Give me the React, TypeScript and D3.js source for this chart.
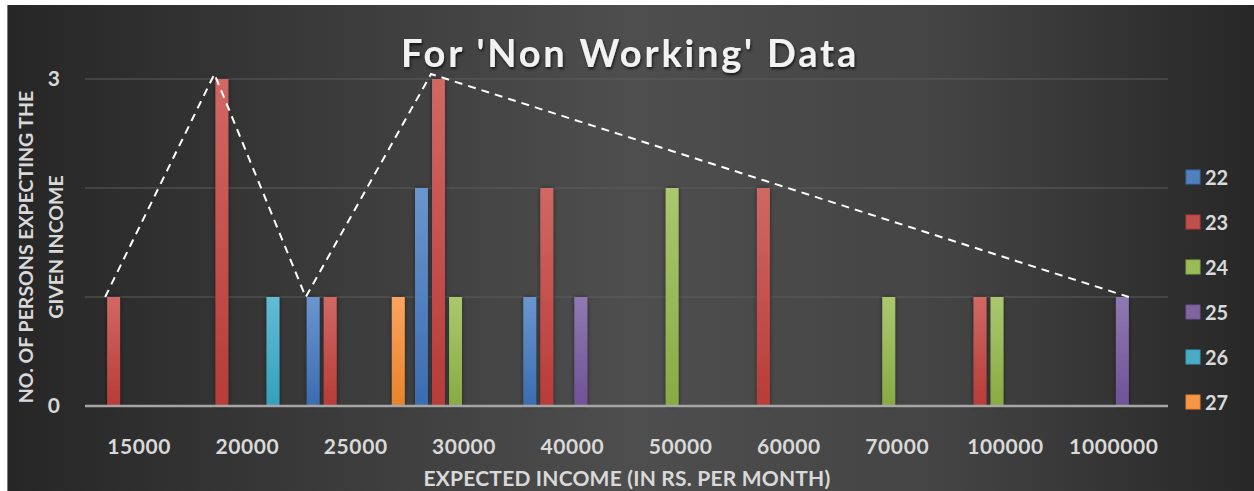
import React from 'react';
import * as d3 from 'd3';

// expected income categories (x axis)
const incomes = ['15000', '20000', '25000', '30000', '40000', '50000', '60000', '70000', '100000', '1000000'];
// age groups (legend)
const ages = ['22', '23', '24', '25', '26', '27'];

// no. of persons per income, one array per age group
const age22 = [0, 0, 1, 2, 1, 0, 0, 0, 0, 0];
const age23 = [1, 3, 1, 3, 2, 0, 2, 0, 1, 0];
const age24 = [0, 0, 0, 1, 0, 2, 0, 1, 1, 0];
const age25 = [0, 0, 0, 0, 1, 0, 0, 0, 0, 1];
const age26 = [0, 1, 0, 0, 0, 0, 0, 0, 0, 0];
const age27 = [0, 0, 1, 0, 0, 0, 0, 0, 0, 0];
const seriesValues = [age22, age23, age24, age25, age26, age27];

const colors = ['#4f81bd', '#c0504d', '#9bbb59', '#8064a2', '#4bacc6', '#f79646'];
const colorsTop = ['#6b96cf', '#d06864', '#aac86f', '#9079b2', '#62bcd4', '#fba45e'];
const colorsBottom = ['#3a6cb0', '#b83b38', '#87ab43', '#6f5296', '#34a0bd', '#e8832c'];

// dashed annotation: which bar tops the line is drawn through
const peakCats = ['15000', '20000', '25000', '30000', '1000000'];
const peakSeries = ['23', '23', '22', '23', '25'];

const yTicks = [0, 3];
const gridValues = [1, 2, 3];

const W = 1254;
const H = 491;
const FONT = 'Lato, "Open Sans", sans-serif';

export default function App() {
  const left = 85;
  const right = 1168;
  const top = 79;
  const bottom = 406;

  const x = d3.scaleBand().domain(incomes).range([left, right]).padding(0);
  const xInner = d3.scaleBand().domain(ages).range([0, x.bandwidth()]).paddingInner(0.24).paddingOuter(0.3);
  const y = d3.scaleLinear().domain([0, 3]).range([bottom, top]);

  const peakPoints = peakCats.map((c, i) => {
    const si = ages.indexOf(peakSeries[i]);
    const v = seriesValues[si][incomes.indexOf(c)];
    const bx = (x(c) ?? 0) + (xInner(peakSeries[i]) ?? 0);
    const last = i === peakCats.length - 1;
    const first = i === 0;
    const px = last ? bx + xInner.bandwidth() : first ? bx - 2 : bx - 1;
    return [px, y(v) - (v === 3 ? 5 : 0)] as [number, number];
  });
  const dashPath = d3.line()(peakPoints) ?? '';

  return (
    <svg width={W} height={H} style={{ position: 'absolute', left: 0, top: 0, display: 'block' }} fontFamily={FONT}>
      <defs>
        <linearGradient id="bg" x1="0" x2="1" y1="0" y2="0">
          <stop offset="0" stopColor="#262626" />
          <stop offset="0.5" stopColor="#4e4e4e" />
          <stop offset="0.75" stopColor="#444444" />
          <stop offset="1" stopColor="#272727" />
        </linearGradient>
        {ages.map((a, i) => (
          <linearGradient key={a} id={`g${a}`} x1="0" x2="0" y1="0" y2="1">
            <stop offset="0" stopColor={colorsTop[i]} />
            <stop offset="1" stopColor={colorsBottom[i]} />
          </linearGradient>
        ))}
        <filter id="shadow" x="-50%" y="-10%" width="200%" height="120%">
          <feDropShadow dx="0" dy="0" stdDeviation="2" floodColor="#000" floodOpacity="0.5" />
        </filter>
        <filter id="tshadow" x="-10%" y="-20%" width="120%" height="150%">
          <feDropShadow dx="1" dy="2" stdDeviation="1.5" floodColor="#000" floodOpacity="0.7" />
        </filter>
      </defs>

      <rect x={0} y={0} width={W} height={H} fill="#ffffff" />
      <rect x={7} y={5} width={W - 7} height={H - 5} fill="url(#bg)" />
      <line x1={7.5} x2={7.5} y1={5} y2={H} stroke="#7a7a7a" strokeWidth={1} />

      {/* gridlines */}
      {gridValues.map(v => (
        <line key={v} x1={left} x2={right} y1={y(v)} y2={y(v)} stroke="#5c5c5c" strokeWidth={1.2} />
      ))}

      {/* bars */}
      {ages.map((a, si) => (
        <g key={a} filter="url(#shadow)">
          {incomes.map((c, ci) => {
            const v = seriesValues[si][ci];
            if (!v) return null;
            return (
              <rect
                key={c}
                x={(x(c) ?? 0) + (xInner(a) ?? 0)}
                y={y(v)}
                width={xInner.bandwidth()}
                height={y(0) - y(v)}
                fill={`url(#g${a})`}
              />
            );
          })}
        </g>
      ))}

      {/* x axis line */}
      <line x1={left} x2={right} y1={y(0)} y2={y(0)} stroke="#a6a6a6" strokeWidth={2.5} />

      {/* dashed annotation */}
      <path d={dashPath} fill="none" stroke="#ffffff" strokeWidth={2} strokeDasharray="8,6" />

      {/* y tick labels */}
      {yTicks.map(t => (
        <text key={t} x={60} y={y(t) + 7} textAnchor="end" fontSize={21} fontWeight={700} fill="#d9d9d9">
          {t}
        </text>
      ))}

      {/* x tick labels */}
      {incomes.map(c => (
        <text
          key={c}
          x={(x(c) ?? 0) + x.bandwidth() / 2}
          y={454}
          textAnchor="middle"
          fontSize={21}
          fontWeight={700}
          fill="#d9d9d9"
          letterSpacing={0.6}
        >
          {c}
        </text>
      ))}

      {/* axis titles */}
      <text x={627} y={486} textAnchor="middle" fontSize={21} fontWeight={700} fill="#d9d9d9" letterSpacing={0.2}>
        EXPECTED INCOME (IN RS. PER MONTH)
      </text>
      <g transform="translate(0,247) rotate(-90)" fill="#d9d9d9" fontSize={19.5} fontWeight={700} textAnchor="middle">
        <text x={0} y={33}>NO. OF PERSONS EXPECTING THE</text>
        <text x={0} y={63}>GIVEN INCOME</text>
      </g>

      {/* title */}
      <text
        x={630}
        y={67}
        textAnchor="middle"
        fontSize={38}
        fontWeight={700}
        fill="#f2f2f2"
        letterSpacing={2.8}
        filter="url(#tshadow)"
      >
        For 'Non Working' Data
      </text>

      {/* legend */}
      {ages.map((a, i) => (
        <g key={a} transform={`translate(1186,${177 + i * 45})`}>
          <rect x={0} y={-7} width={14} height={14} fill={colors[i]} stroke={colorsBottom[i]} strokeWidth={1} />
          <text x={19} y={7.5} fontSize={20} fontWeight={700} fill="#d9d9d9">
            {a}
          </text>
        </g>
      ))}
    </svg>
  );
}
